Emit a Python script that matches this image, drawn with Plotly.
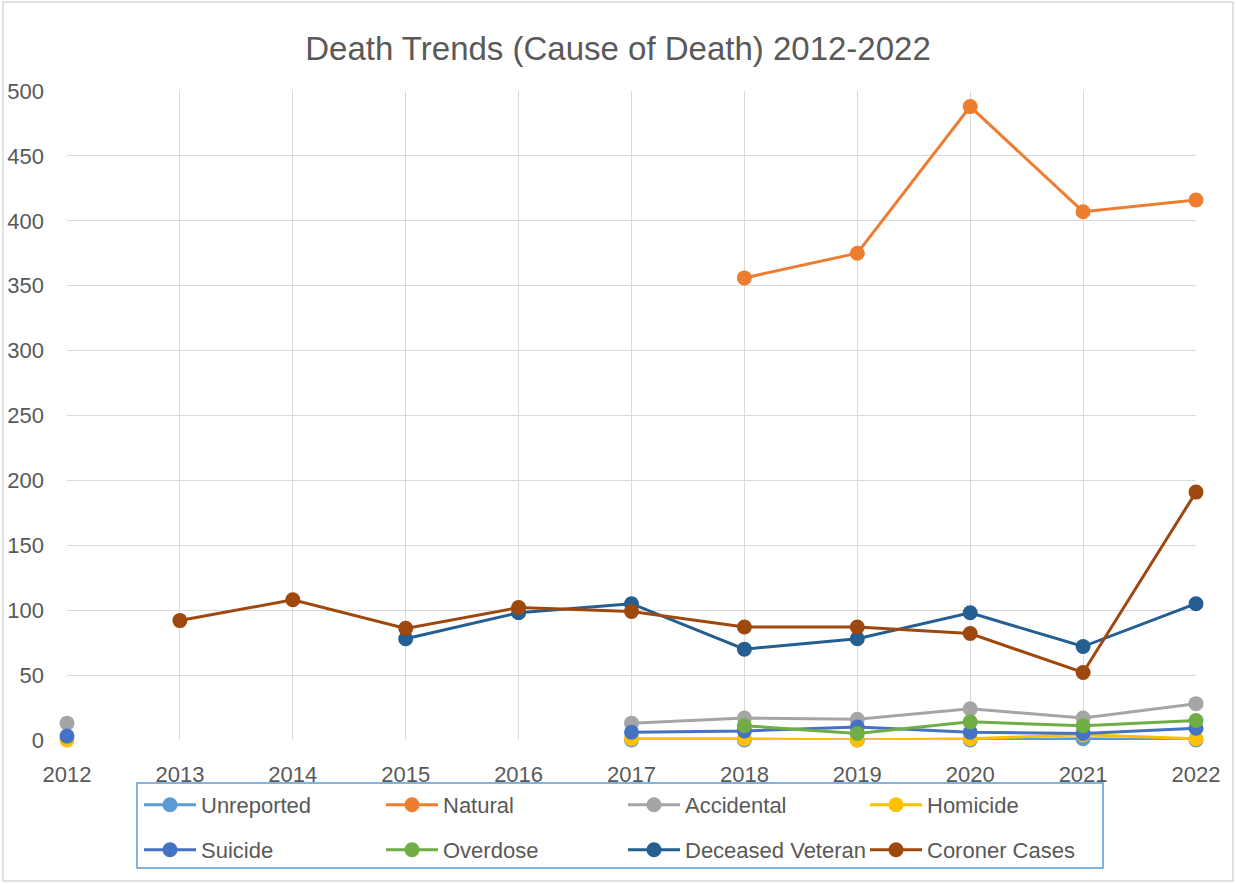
import plotly.graph_objects as go

years = [2012, 2013, 2014, 2015, 2016, 2017, 2018, 2019, 2020, 2021, 2022]
N = None
unreported = [N, N, N, N, N, 0, 0, 0, 0, 1, 0]
natural = [N, N, N, N, N, N, 356, 375, 488, 407, 416]
accidental = [13, N, N, N, N, 13, 17, 16, 24, 17, 28]
homicide = [0, N, N, N, N, 1, 1, 0, 1, 4, 1]
suicide = [3, N, N, N, N, 6, 7, 10, 6, 5, 9]
overdose = [N, N, N, N, N, N, 11, 5, 14, 11, 15]
veteran = [N, N, N, 78, 98, 105, 70, 78, 98, 72, 105]
coroner = [N, 92, 108, 86, 102, 99, 87, 87, 82, 52, 191]

series = [
    ("Unreported", unreported, "#5B9BD5", "legend"),
    ("Natural", natural, "#ED7D31", "legend"),
    ("Accidental", accidental, "#A5A5A5", "legend"),
    ("Homicide", homicide, "#FFC000", "legend"),
    ("Suicide", suicide, "#4472C4", "legend2"),
    ("Overdose", overdose, "#70AD47", "legend2"),
    ("Deceased Veteran", veteran, "#255E91", "legend2"),
    ("Coroner Cases", coroner, "#9E480E", "legend2"),
]

W, H = 1236, 884
L, R, T, B = 67, 40, 91, 144
pw, ph = W - L - R, H - T - B

def px(x):
    return (x - L) / pw

def py(y):
    return (H - B - y) / ph

fig = go.Figure()
for name, vals, color, leg in series:
    fig.add_trace(go.Scatter(
        x=years, y=vals, name=name, mode="lines+markers",
        line=dict(color=color, width=3),
        marker=dict(color=color, size=15),
        connectgaps=False, cliponaxis=False, legend=leg,
    ))

font_color = "#595959"
leg_common = dict(orientation="h", x=px(139), xanchor="left", yanchor="middle",
                  entrywidth=175, entrywidthmode="pixels", itemwidth=52,
                  font=dict(size=22, color=font_color), bgcolor="rgba(0,0,0,0)")
fig.update_layout(
    width=W, height=H,
    margin=dict(l=L, r=R, t=T, b=B, autoexpand=False),
    paper_bgcolor="white", plot_bgcolor="white",
    font=dict(family="Liberation Sans, Arial, sans-serif", color=font_color),
    title=dict(text="Death Trends (Cause of Death) 2012-2022", x=0.5, xanchor="center",
               y=1 - 48 / H, yanchor="middle", font=dict(size=33, color=font_color)),
    xaxis=dict(range=[2012, 2022], tickmode="array", tickvals=years,
               ticktext=[str(y) for y in years], showgrid=True, gridcolor="#D9D9D9",
               gridwidth=1.3, zeroline=False, showline=False, ticks="", automargin=False,
               tickfont=dict(size=22, color=font_color), ticklabelstandoff=19),
    yaxis=dict(range=[0, 500], dtick=50, showgrid=True, gridcolor="#D9D9D9",
               gridwidth=1.3, zeroline=False, showline=False, ticks="", automargin=False,
               tickfont=dict(size=22, color=font_color), ticklabelstandoff=22),
    legend=dict(y=py(805), **leg_common),
    legend2=dict(y=py(850), **leg_common),
    shapes=[
        dict(type="rect", xref="paper", yref="paper", x0=px(137), x1=px(1103),
             y0=py(783), y1=py(868), line=dict(color="#5B9BD5", width=1.5)),
        dict(type="rect", xref="paper", yref="paper", x0=px(3), x1=px(1233),
             y0=py(2), y1=py(881), line=dict(color="#D9D9D9", width=1.5)),
    ],
)

fig.write_html("out.html", config={"displayModeBar": False},
               post_script="document.body.style.margin='0px';")
